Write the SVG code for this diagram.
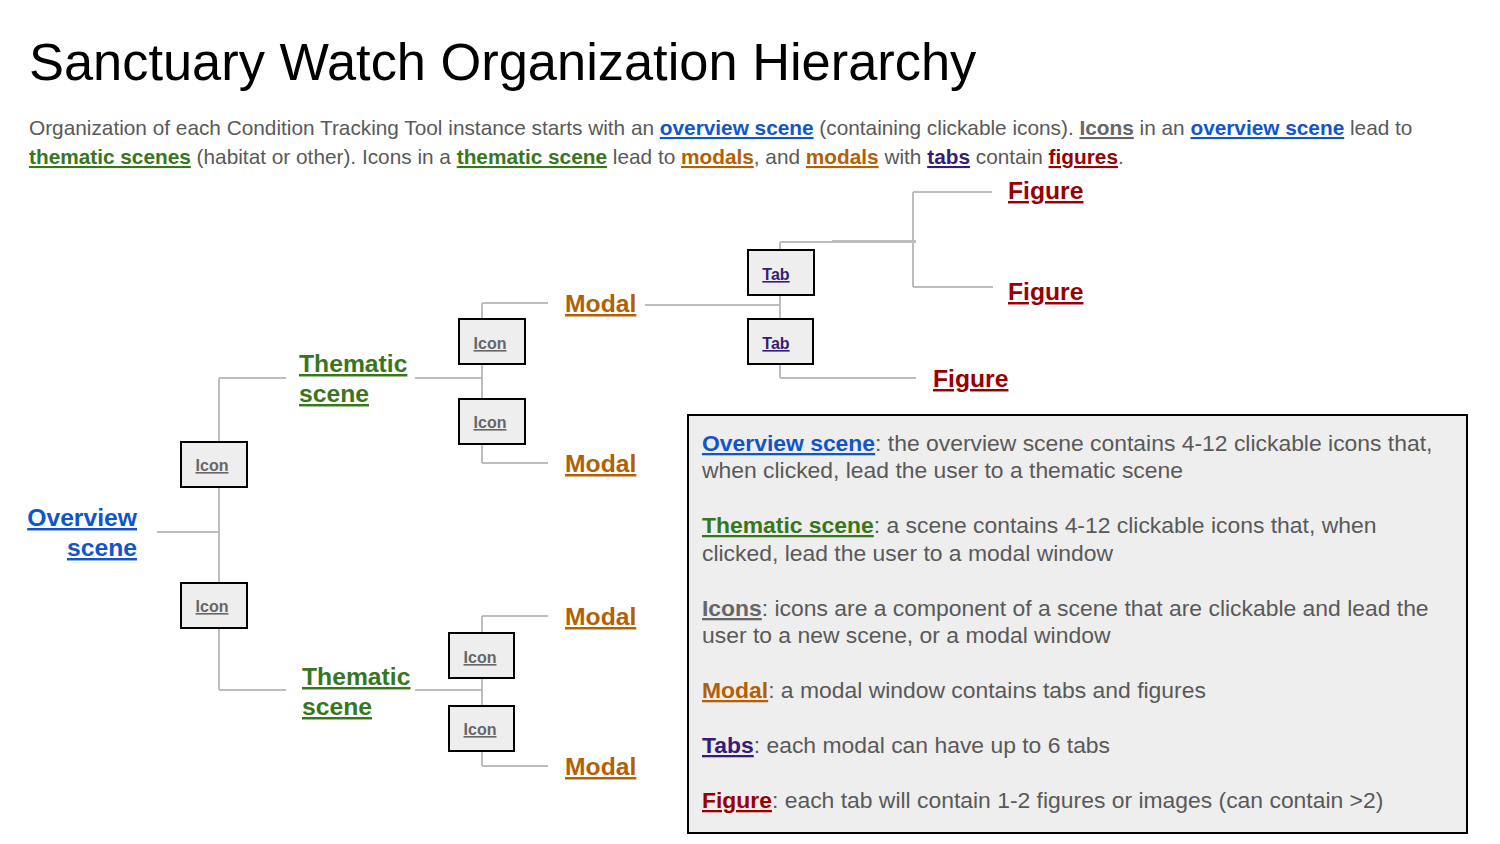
<svg xmlns="http://www.w3.org/2000/svg" width="1500" height="844" viewBox="0 0 1500 844">
<style>
text{font-family:"Liberation Sans",Arial,sans-serif;}
.title{font-size:52.4px;fill:#000;}
.sub{font-size:20.8px;fill:#595959;}
.lg{font-size:22.9px;fill:#595959;}
.b{font-weight:bold;text-decoration:underline;}
.blue{fill:#1155cc;}
.green{fill:#38761d;}
.orange{fill:#b45f06;}
.purple{fill:#351c75;}
.red{fill:#990000;}
.grey{fill:#666666;}
.node{font-size:24.7px;font-weight:bold;text-decoration:underline;}
.box{fill:#eeeeee;stroke:#000;stroke-width:2;}
.small{font-size:16px;font-weight:bold;text-decoration:underline;text-anchor:middle;}
.conn{fill:none;stroke:#bdbdbd;stroke-width:2;}
</style>
<rect width="1500" height="844" fill="#fff"/>
<text class="title" x="29" y="80">Sanctuary Watch Organization Hierarchy</text>
<text class="sub" x="29" y="135">Organization of each Condition Tracking Tool instance starts with an <tspan class="b blue">overview scene</tspan> (containing clickable icons). <tspan class="b grey">Icons</tspan> in an <tspan class="b blue">overview scene</tspan> lead to</text>
<text class="sub" x="29" y="164"><tspan class="b green">thematic scenes</tspan> (habitat or other). Icons in a <tspan class="b green">thematic scene</tspan> lead to <tspan class="b orange">modals</tspan>, and <tspan class="b orange">modals</tspan> with <tspan class="b purple">tabs</tspan> contain <tspan class="b red">figures</tspan>.</text>

<g id="connectors">
<path class="conn" d="M157,532 H219 M219,378 V690 M219,378 H286 M219,690 H286"/>
<path class="conn" d="M415,378 H482 M482,303 V463 M482,303 H548 M482,463 H548"/>
<path class="conn" d="M415,690 H482 M482,616 V766 M482,616 H548 M482,766 H548"/>
<path class="conn" d="M645,305 H780 M780,242 V378 M780,242 H916 M780,378 H916"/>
<path class="conn" d="M832,241 H916"/>
<path class="conn" d="M913,192 V287 M913,192 H992 M913,287 H993"/>
</g>

<g id="overview"><text class="node blue" text-anchor="end"><tspan x="137" y="526">Overview</tspan><tspan x="137" y="556">scene</tspan></text></g>
<g id="icon1"><rect class="box" x="181" y="442" width="66" height="45"/><text class="small grey" x="212" y="471">Icon</text></g>
<g id="icon2"><rect class="box" x="181" y="583" width="66" height="45"/><text class="small grey" x="212" y="612">Icon</text></g>
<g id="thematic1"><text class="node green"><tspan x="299" y="372">Thematic</tspan><tspan x="299" y="402">scene</tspan></text></g>
<g id="thematic2"><text class="node green"><tspan x="302" y="685">Thematic</tspan><tspan x="302" y="715">scene</tspan></text></g>
<g id="icon3"><rect class="box" x="459" y="319" width="66" height="45"/><text class="small grey" x="490" y="349">Icon</text></g>
<g id="icon4"><rect class="box" x="459" y="399" width="66" height="45"/><text class="small grey" x="490" y="428">Icon</text></g>
<g id="icon5"><rect class="box" x="449" y="633" width="65" height="45"/><text class="small grey" x="480" y="663">Icon</text></g>
<g id="icon6"><rect class="box" x="449" y="706" width="65" height="45"/><text class="small grey" x="480" y="735">Icon</text></g>
<g id="modal1"><text class="node orange" x="565" y="312">Modal</text></g>
<g id="modal2"><text class="node orange" x="565" y="472">Modal</text></g>
<g id="modal3"><text class="node orange" x="565" y="625">Modal</text></g>
<g id="modal4"><text class="node orange" x="565" y="775">Modal</text></g>
<g id="tab1"><rect class="box" x="748" y="250" width="66" height="45"/><text class="small purple" x="776" y="280">Tab</text></g>
<g id="tab2"><rect class="box" x="748" y="319" width="65" height="45"/><text class="small purple" x="776" y="349">Tab</text></g>
<g id="figure1"><text class="node red" x="1008" y="199">Figure</text></g>
<g id="figure2"><text class="node red" x="1008" y="300">Figure</text></g>
<g id="figure3"><text class="node red" x="933" y="387">Figure</text></g>

<g id="legend">
<rect class="box" x="688" y="415" width="779" height="418"/>
<text class="lg" x="702" y="451"><tspan class="b blue">Overview scene</tspan>: the overview scene contains 4-12 clickable icons that,</text>
<text class="lg" x="702" y="478">when clicked, lead the user to a thematic scene</text>
<text class="lg" x="702" y="533"><tspan class="b green">Thematic scene</tspan>: a scene contains 4-12 clickable icons that, when</text>
<text class="lg" x="702" y="561">clicked, lead the user to a modal window</text>
<text class="lg" x="702" y="616"><tspan class="b grey">Icons</tspan>: icons are a component of a scene that are clickable and lead the</text>
<text class="lg" x="702" y="643">user to a new scene, or a modal window</text>
<text class="lg" x="702" y="698"><tspan class="b orange">Modal</tspan>: a modal window contains tabs and figures</text>
<text class="lg" x="702" y="753"><tspan class="b purple">Tabs</tspan>: each modal can have up to 6 tabs</text>
<text class="lg" x="702" y="808"><tspan class="b red">Figure</tspan>: each tab will contain 1-2 figures or images (can contain &gt;2)</text>
</g>
</svg>
